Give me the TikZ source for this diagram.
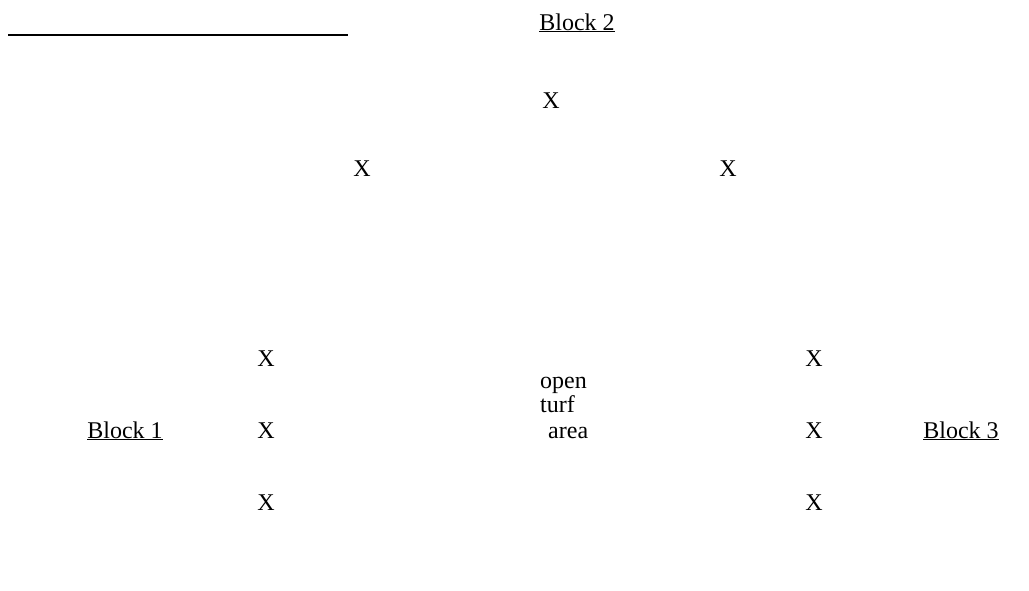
\documentclass[tikz,border=0pt]{standalone}
\usepackage{fontspec}
\setmainfont{Liberation Serif}
\begin{document}
\begin{tikzpicture}[x=1pt,y=-1pt,
  lbl/.style={inner sep=0pt,anchor=base,font=\fontsize{24}{28}\selectfont},
  lbll/.style={inner sep=0pt,anchor=base west,font=\fontsize{24}{28}\selectfont}]
\useasboundingbox (0,0) rectangle (1029,590);
\coordinate (l1) at (8,35);
\coordinate (l2) at (348,35);
\draw[line width=1.5pt] (l1) -- (l2);
\node[lbl] (b2) at (577,30) {\underline{Block 2}};
\node[lbl] (x1) at (551,108) {X};
\node[lbl] (x2) at (362,176) {X};
\node[lbl] (x3) at (728,176) {X};
\node[lbl] (x4) at (266,366) {X};
\node[lbl] (x5) at (814,366) {X};
\node[lbl] (x6) at (266,438) {X};
\node[lbl] (x7) at (814,438) {X};
\node[lbl] (x8) at (266,510) {X};
\node[lbl] (x9) at (814,510) {X};
\node[lbl] (b1) at (125,438) {\underline{Block 1}};
\node[lbl] (b3) at (961,438) {\underline{Block 3}};
\node[lbll] (t1) at (540,388) {open};
\node[lbll] (t2) at (540,412) {turf};
\node[lbll] (t3) at (548,438) {area};
\end{tikzpicture}
\end{document}
